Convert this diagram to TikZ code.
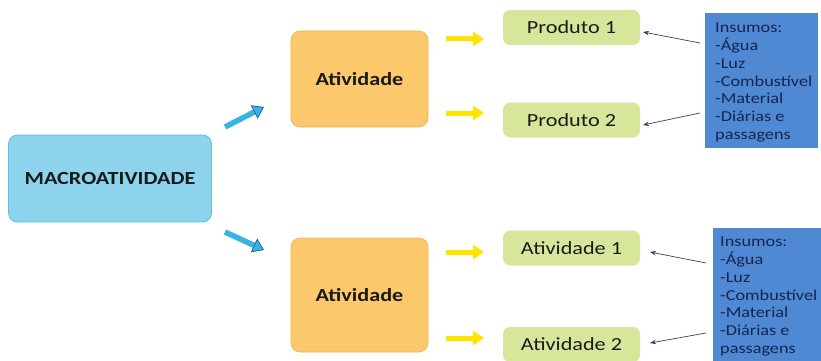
\documentclass[tikz,border=0pt]{standalone}
\usepackage{fontspec}
\setmainfont{Carlito}[FakeStretch=1.2]
\usetikzlibrary{arrows.meta}
\definecolor{macrofill}{HTML}{8DD3EC}
\definecolor{macroedge}{HTML}{62BFDF}
\definecolor{actfill}{HTML}{FCC86C}
\definecolor{actedge}{HTML}{EDB253}
\definecolor{prodfill}{HTML}{D6E79B}
\definecolor{insfill}{HTML}{4F88D3}
\definecolor{instext}{HTML}{15264F}
\definecolor{yellowarr}{HTML}{FFE400}
\definecolor{bluearr}{HTML}{38B3E4}
\definecolor{bluedark}{HTML}{1F5F8F}
\definecolor{boxtext}{HTML}{1A1A1A}
\tikzset{
  macrobox/.style={draw=macroedge, line width=0.8pt, fill=macrofill, rounded corners=9pt,
    minimum width=203pt, minimum height=87pt, inner sep=0pt, text=boxtext,
    font=\bfseries\fontsize{18.5}{20}\selectfont},
  actbox/.style={draw=actedge, line width=0.6pt, fill=actfill, rounded corners=9pt,
    minimum width=137pt, inner sep=0pt, text=boxtext,
    font=\bfseries\fontsize{18.5}{20}\selectfont},
  prodbox/.style={fill=prodfill, rounded corners=7pt, minimum width=137pt, minimum height=35pt,
    inner sep=0pt, text=boxtext, font=\fontsize{18.5}{20}\selectfont},
  insbox/.style={fill=insfill, anchor=north west, inner sep=0pt},
  instxt/.style={align=left, anchor=north west, text=instext, inner sep=0pt,
    font=\fontsize{15.2}{17.75}\selectfont},
  yarrow/.style={draw=yellowarr, line width=5pt, -{Triangle[length=11pt,width=14pt]}},
  barrow/.style={draw=bluearr, line width=5.5pt,
    -{Triangle[length=11pt,width=15pt,color=bluedark,fill=bluearr,line width=0.7pt]}},
  tarrow/.style={draw=black!75, line width=0.7pt, -{Stealth[length=6pt,width=4.5pt]}},
}
\begin{document}
\begin{tikzpicture}[x=1pt,y=-1pt]
\useasboundingbox[fill=white] (0,0) rectangle (821,361);

\node[macrobox] (macro) at (110,178.5) {MACROATIVIDADE};
\node[actbox, minimum height=96pt] (act1) at (359.5,79) {Atividade};
\node[actbox, minimum height=114pt] (act2) at (359.5,295) {Atividade};

\node[prodbox] (p1) at (571.5,27.5) {Produto 1};
\node[prodbox] (p2) at (571.5,120) {Produto 2};
\node[prodbox] (a1) at (571.5,248) {Atividade 1};
\node[prodbox] (a2) at (571.5,344.5) {Atividade 2};

\node[insbox, minimum width=113pt, minimum height=135pt] (ins1) at (705,13) {};
\node[instxt] (ins1t) at (715,23)
  {Insumos:\\-Água\\-Luz\\-Combustível\\-Material\\-Diárias e\\passagens};
\node[insbox, minimum width=110pt, minimum height=140pt] (ins2) at (713,228) {};
\node[instxt] (ins2t) at (720,237)
  {Insumos:\\-Água\\-Luz\\-Combustível\\-Material\\-Diárias e\\passagens};

% blue arrows
\coordinate (b1s) at (225,127); \coordinate (b1e) at (264,107);
\coordinate (b2s) at (225,232); \coordinate (b2e) at (264,250);
\draw[barrow] (b1s) -- (b1e);
\draw[barrow] (b2s) -- (b2e);

% yellow arrows
\coordinate (y1s) at (446,39); \coordinate (y1e) at (484,39);
\coordinate (y2s) at (446,113); \coordinate (y2e) at (484,113);
\coordinate (y3s) at (446,252); \coordinate (y3e) at (484,252);
\coordinate (y4s) at (446,338); \coordinate (y4e) at (484,338);
\draw[yarrow] (y1s) -- (y1e);
\draw[yarrow] (y2s) -- (y2e);
\draw[yarrow] (y3s) -- (y3e);
\draw[yarrow] (y4s) -- (y4e);

% thin arrows
\coordinate (t1s) at (700,43); \coordinate (t1e) at (643,32);
\coordinate (t2s) at (700,113); \coordinate (t2e) at (643,125);
\coordinate (t3s) at (706,263); \coordinate (t3e) at (650,252);
\coordinate (t4s) at (706,333); \coordinate (t4e) at (650,343);
\draw[tarrow] (t1s) -- (t1e);
\draw[tarrow] (t2s) -- (t2e);
\draw[tarrow] (t3s) -- (t3e);
\draw[tarrow] (t4s) -- (t4e);
\end{tikzpicture}
\end{document}
